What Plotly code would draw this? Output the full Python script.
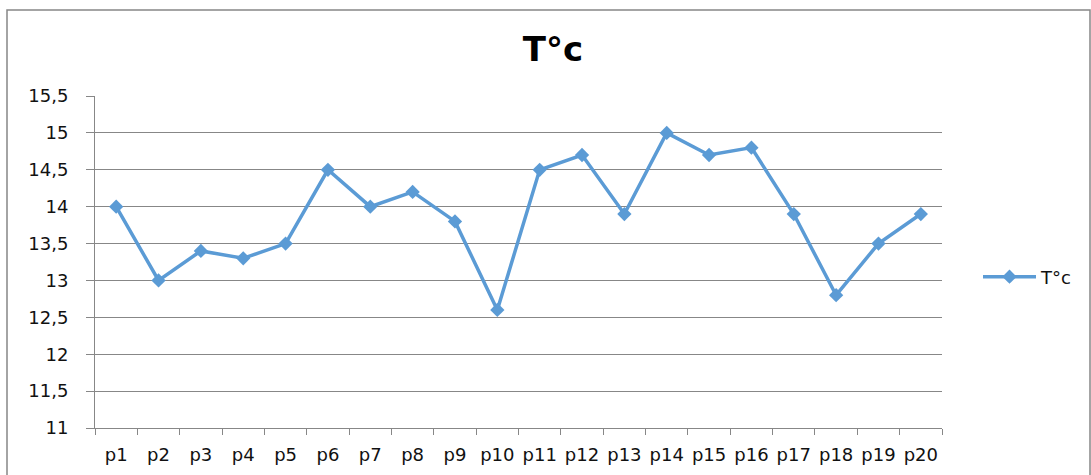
import plotly.graph_objects as go

# Temperature readings per point
points = ["p1", "p2", "p3", "p4", "p5", "p6", "p7", "p8", "p9", "p10",
          "p11", "p12", "p13", "p14", "p15", "p16", "p17", "p18", "p19", "p20"]
temps = [14.0, 13.0, 13.4, 13.3, 13.5, 14.5, 14.0, 14.2, 13.8, 12.6,
         14.5, 14.7, 13.9, 15.0, 14.7, 14.8, 13.9, 12.8, 13.5, 13.9]
y_ticks = [11, 11.5, 12, 12.5, 13, 13.5, 14, 14.5, 15, 15.5]

W, H = 1091, 475
L, R, T, B = 95, 149, 96, 47
pw, ph = W - L - R, H - T - B

def px_x(x):
    return (x - L) / pw

def px_y(y):
    return (H - B - y) / ph

BLUE = "#5B9BD5"
GREY = "#878787"
FONT = "DejaVu Sans"

fig = go.Figure()
fig.add_trace(go.Scatter(
    x=points, y=temps, name="T°c", mode="lines+markers",
    line=dict(color=BLUE, width=3.5),
    marker=dict(symbol="diamond", size=11, color=BLUE),
))

fig.update_layout(
    width=W, height=H,
    margin=dict(l=L, r=R, t=T, b=B, pad=0, autoexpand=False),
    paper_bgcolor="white", plot_bgcolor="white",
    separators=", ",
    font=dict(family=FONT, color="#111111", size=18),
    title=dict(text="<b>T°c</b>", font=dict(family=FONT, size=34, color="#000000"),
               x=px_x(553), xref="paper", xanchor="center",
               y=1 - 49 / H, yref="container", yanchor="middle"),
    showlegend=True,
    legend=dict(x=px_x(978), y=px_y(277), xanchor="left", yanchor="middle",
                xref="paper", yref="paper", itemwidth=53,
                font=dict(family=FONT, size=18, color="#111111"),
                bgcolor="rgba(0,0,0,0)"),
    xaxis=dict(type="category", range=[-0.5, 19.5], tickson="boundaries",
               showgrid=False, showline=True, linecolor=GREY, linewidth=1,
               ticks="outside", ticklen=6, tickcolor=GREY, tickwidth=1,
               tickangle=0, automargin=False,
               ticklabelstandoff=10, fixedrange=True),
    yaxis=dict(range=[11, 15.5], tickvals=y_ticks,
               showgrid=True, gridcolor=GREY, gridwidth=1,
               showline=True, linecolor=GREY, linewidth=1,
               ticks="outside", ticklen=8, tickcolor=GREY, tickwidth=1,
               automargin=False,
               ticklabelstandoff=14, zeroline=False, fixedrange=True),
    shapes=[dict(type="rect", xref="paper", yref="paper",
                 x0=px_x(7), x1=px_x(1090), y0=px_y(490), y1=px_y(10),
                 line=dict(color=GREY, width=1.5), layer="below")],
)

fig.write_html("out.html")
